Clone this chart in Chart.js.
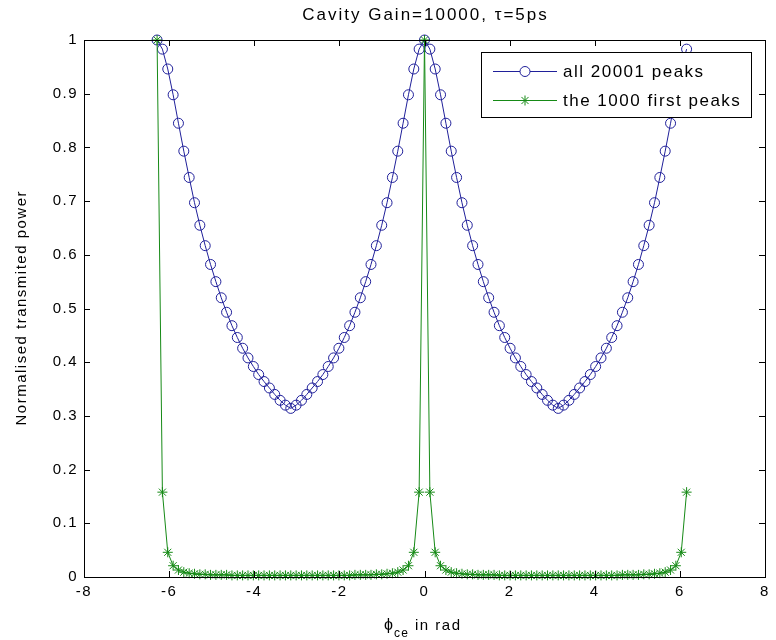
<!DOCTYPE html>
<html><head><meta charset="utf-8">
<script src="https://cdn.jsdelivr.net/npm/chart.js@4.4.1/dist/chart.umd.min.js"></script>
<style>html,body{margin:0;padding:0;background:#fff}#wrap{width:776px;height:640px}</style>
</head><body><div id="wrap"><canvas id="c" width="776" height="640"></canvas></div>
<script>
const phi = [
-6.283,-6.158,-6.032,-5.906,-5.781,-5.655,-5.529,-5.404,-5.278,-5.152,
-5.027,-4.901,-4.775,-4.650,-4.524,-4.398,-4.273,-4.147,-4.021,-3.896,
-3.770,-3.644,-3.519,-3.393,-3.267,-3.142,-3.016,-2.890,-2.765,-2.639,
-2.513,-2.388,-2.262,-2.136,-2.011,-1.885,-1.759,-1.634,-1.508,-1.382,
-1.257,-1.131,-1.005,-0.880,-0.754,-0.628,-0.503,-0.377,-0.251,-0.126,
0.000,0.126,0.251,0.377,0.503,0.628,0.754,0.880,1.005,1.131,
1.257,1.382,1.508,1.634,1.759,1.885,2.011,2.136,2.262,2.388,
2.513,2.639,2.765,2.890,3.016,3.142,3.267,3.393,3.519,3.644,
3.770,3.896,4.021,4.147,4.273,4.398,4.524,4.650,4.775,4.901,
5.027,5.152,5.278,5.404,5.529,5.655,5.781,5.906,6.032,6.158];

const allPeaks = [
1.000,0.983,0.946,0.898,0.845,0.793,0.744,0.697,0.655,0.617,
0.582,0.550,0.520,0.493,0.468,0.446,0.426,0.408,0.392,0.377,
0.364,0.352,0.340,0.329,0.320,0.314,0.320,0.329,0.340,0.352,
0.364,0.377,0.392,0.408,0.426,0.446,0.468,0.493,0.520,0.550,
0.582,0.617,0.655,0.697,0.744,0.793,0.845,0.898,0.946,0.983,
1.000,0.983,0.946,0.898,0.845,0.793,0.744,0.697,0.655,0.617,
0.582,0.550,0.520,0.493,0.468,0.446,0.426,0.408,0.392,0.377,
0.364,0.352,0.340,0.329,0.320,0.314,0.320,0.329,0.340,0.352,
0.364,0.377,0.392,0.408,0.426,0.446,0.468,0.493,0.520,0.550,
0.582,0.617,0.655,0.697,0.744,0.793,0.845,0.898,0.946,0.983];

const firstPeaks = [
1.000,0.158,0.046,0.021,0.013,0.009,0.007,0.006,0.005,0.005,
0.004,0.004,0.004,0.004,0.003,0.003,0.003,0.003,0.003,0.003,
0.003,0.003,0.003,0.003,0.003,0.003,0.003,0.003,0.003,0.003,
0.003,0.003,0.003,0.003,0.003,0.003,0.003,0.004,0.004,0.004,
0.004,0.005,0.005,0.006,0.007,0.009,0.013,0.021,0.046,0.158,
1.000,0.158,0.046,0.021,0.013,0.009,0.007,0.006,0.005,0.005,
0.004,0.004,0.004,0.004,0.003,0.003,0.003,0.003,0.003,0.003,
0.003,0.003,0.003,0.003,0.003,0.003,0.003,0.003,0.003,0.003,
0.003,0.003,0.003,0.003,0.003,0.003,0.003,0.004,0.004,0.004,
0.004,0.005,0.005,0.006,0.007,0.009,0.013,0.021,0.046,0.158];

const xTicks = [-8,-6,-4,-2,0,2,4,6,8];
const xTickLabels = ['-8','-6','-4','-2','0','2','4','6','8'];
const yTicks = [0,0.1,0.2,0.3,0.4,0.5,0.6,0.7,0.8,0.9,1];
const yTickLabels = ['0','0.1','0.2','0.3','0.4','0.5','0.6','0.7','0.8','0.9','1'];
const seriesNames = ['all 20001 peaks','the 1000 first peaks'];
const titleText = 'Cavity Gain=10000, \u03c4=5ps';
const yTitle = 'Normalised transmited power';
const xTitleMain = '\u03d5';
const xTitleSub = 'ce';
const xTitleRest = ' in rad';

const FONT = '"Liberation Sans", Arial, Helvetica, sans-serif';
const BLUE = '#20209a';
const GREEN = '#168a16';

function drawSpaced(ctx, text, x, y, spacing){
  let cx = x;
  for (const ch of text){
    ctx.fillText(ch, cx, y);
    cx += ctx.measureText(ch).width + spacing;
  }
  return cx - spacing;
}
function spacedWidth(ctx, text, spacing){
  let w = 0; let n = 0;
  for (const ch of text){ w += ctx.measureText(ch).width; n++; }
  return w + spacing * Math.max(0, n - 1);
}

const framePlugin = {
  id: 'frame',
  beforeDraw(chart){
    if ('letterSpacing' in chart.ctx) chart.ctx.letterSpacing = '1.5px';
  },
  afterDatasetsDraw(chart){
    const {ctx, chartArea: a, scales} = chart;
    ctx.save();
    if ('letterSpacing' in ctx) ctx.letterSpacing = '0px';
    ctx.strokeStyle = '#000';
    ctx.lineWidth = 1;
    ctx.strokeRect(Math.round(a.left)+0.5, Math.round(a.top)+0.5, Math.round(a.right-a.left), Math.round(a.bottom-a.top));
    const tl = 6;
    ctx.beginPath();
    for (const v of xTicks){
      const px = Math.round(scales.x.getPixelForValue(v)) + 0.5;
      ctx.moveTo(px, a.bottom); ctx.lineTo(px, a.bottom - tl);
      ctx.moveTo(px, a.top); ctx.lineTo(px, a.top + tl);
    }
    for (const v of yTicks){
      const py = Math.round(scales.y.getPixelForValue(v)) + 0.5;
      ctx.moveTo(a.left, py); ctx.lineTo(a.left + tl, py);
      ctx.moveTo(a.right, py); ctx.lineTo(a.right - tl, py);
    }
    ctx.stroke();

    // legend
    const lx = 481.5, ly = 52.5, lw = 270, lh = 65;
    ctx.fillStyle = '#fff';
    ctx.fillRect(lx, ly, lw, lh);
    ctx.strokeStyle = '#000';
    ctx.strokeRect(lx, ly, lw, lh);
    const rows = [
      {y: 71.5, color: BLUE, name: seriesNames[0], style: 'circle'},
      {y: 100.5, color: GREEN, name: seriesNames[1], style: 'star'}
    ];
    for (const r of rows){
      ctx.strokeStyle = r.color;
      ctx.lineWidth = 1;
      ctx.beginPath(); ctx.moveTo(493, r.y); ctx.lineTo(557, r.y); ctx.stroke();
      Chart.helpers.drawPoint(ctx, {pointStyle: r.style, radius: 5, borderWidth: 1}, 525, r.y);
      ctx.fillStyle = '#000';
      ctx.font = '17px ' + FONT;
      ctx.textBaseline = 'middle';
      ctx.textAlign = 'left';
      drawSpaced(ctx, r.name, 563, r.y + 1, 1.5);
    }
    ctx.restore();
  },
  afterDraw(chart){
    const {ctx, chartArea: a} = chart;
    ctx.save();
    if ('letterSpacing' in ctx) ctx.letterSpacing = '0px';
    ctx.fillStyle = '#000';
    ctx.textAlign = 'left';
    ctx.textBaseline = 'alphabetic';
    const cx = (a.left + a.right) / 2;
    // title
    ctx.font = '17px ' + FONT;
    const tw = spacedWidth(ctx, titleText, 2);
    drawSpaced(ctx, titleText, cx - tw/2, 20, 2);
    // x title
    ctx.font = '16px ' + FONT;
    const w1 = spacedWidth(ctx, xTitleMain, 1.5);
    ctx.font = '12px ' + FONT;
    const w2 = spacedWidth(ctx, xTitleSub, 1.2);
    ctx.font = '15px ' + FONT;
    const w3 = spacedWidth(ctx, xTitleRest, 1.5);
    const total = w1 + 1 + w2 + 1.5 + w3;
    let x0 = 422 - total/2;
    ctx.font = '16px ' + FONT;
    drawSpaced(ctx, xTitleMain, x0, 630, 1.5);
    ctx.font = '12px ' + FONT;
    drawSpaced(ctx, xTitleSub, x0 + w1 + 1, 637, 1.2);
    ctx.font = '15px ' + FONT;
    drawSpaced(ctx, xTitleRest, x0 + w1 + 1 + w2 + 1.5, 630, 1.5);
    // y title
    ctx.translate(26, (a.top + a.bottom) / 2);
    ctx.rotate(-Math.PI/2);
    ctx.font = '15px ' + FONT;
    const yw = spacedWidth(ctx, yTitle, 1.5);
    drawSpaced(ctx, yTitle, -yw/2, 0, 1.5);
    ctx.restore();
  }
};

const chart = new Chart(document.getElementById('c'), {
  type: 'scatter',
  data: {
    datasets: [
      {
        label: seriesNames[0],
        data: phi.map((x, i) => ({x: x, y: allPeaks[i]})),
        showLine: true,
        borderColor: BLUE,
        borderWidth: 1,
        pointStyle: 'circle',
        pointRadius: 5,
        pointBorderColor: BLUE,
        pointBackgroundColor: 'rgba(0,0,0,0)',
        pointBorderWidth: 1,
        order: 2,
        clip: false
      },
      {
        label: seriesNames[1],
        data: phi.map((x, i) => ({x: x, y: firstPeaks[i]})),
        showLine: true,
        borderColor: GREEN,
        borderWidth: 1,
        pointStyle: 'star',
        pointRadius: 5,
        pointBorderColor: GREEN,
        pointBackgroundColor: GREEN,
        pointBorderWidth: 1,
        order: 1,
        clip: false
      }
    ]
  },
  options: {
    responsive: false,
    animation: false,
    devicePixelRatio: 1,
    layout: {padding: {left: 0, right: 11, top: 40, bottom: 0}},
    plugins: {legend: {display: false}, tooltip: {enabled: false}, title: {display: false}},
    elements: {line: {tension: 0}},
    scales: {
      x: {
        type: 'linear', min: -8, max: 8,
        afterBuildTicks: (s) => { s.ticks = xTicks.map(v => ({value: v})); },
        afterFit: (s) => { s.height = 63; },
        ticks: {
          callback: (v) => xTickLabels[xTicks.indexOf(v)],
          font: {family: FONT, size: 15}, color: '#000', padding: 6,
          maxRotation: 0, autoSkip: false
        },
        grid: {display: false, drawTicks: false},
        border: {display: false}
      },
      y: {
        type: 'linear', min: 0, max: 1,
        afterBuildTicks: (s) => { s.ticks = yTicks.map(v => ({value: v})); },
        afterFit: (s) => { s.width = 84; },
        ticks: {
          callback: (v) => yTickLabels[yTicks.findIndex(t => Math.abs(t - v) < 1e-9)],
          font: {family: FONT, size: 15}, color: '#000', padding: 6,
          autoSkip: false
        },
        grid: {display: false, drawTicks: false},
        border: {display: false}
      }
    }
  },
  plugins: [framePlugin]
});
</script>
</body></html>
